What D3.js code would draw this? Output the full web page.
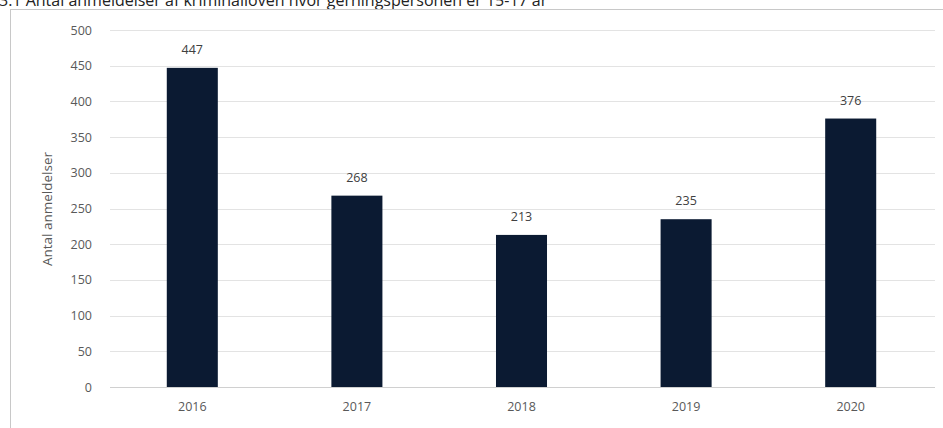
<!DOCTYPE html>
<html>
<head>
<meta charset="utf-8">
<script src="https://cdn.jsdelivr.net/npm/d3@7"></script>
<style>
  body { margin: 0; background: #fff; overflow: hidden; }
  text { font-family: "Open Sans", "Liberation Sans", sans-serif; }
</style>
</head>
<body>
<script>
const w = 943
const h = 428
const years = ["2016", "2017", "2018", "2019", "2020"]
const counts = [447, 268, 213, 235, 376]
const yTicks = [0, 50, 100, 150, 200, 250, 300, 350, 400, 450, 500]

const svg = d3.select("body").append("svg")
  .attr("width", w).attr("height", h)

// title, cut off at the top edge like in the source screenshot
svg.append("text")
  .attr("x", -1).attr("y", 6)
  .attr("font-family", "Liberation Sans, Arial, sans-serif")
  .attr("font-size", "16px")
  .attr("fill", "#222")
  .text("3.1 Antal anmeldelser af kriminalloven hvor gerningspersonen er 15-17 år")

// chart frame (right and bottom edges run off the picture)
svg.append("rect")
  .attr("x", 10.5).attr("y", 9.5)
  .attr("width", 960).attr("height", 440)
  .attr("fill", "none")
  .attr("stroke", "#c8c8c8")

const x = d3.scaleBand()
  .domain(years)
  .range([110, 933])
  .paddingInner(0.69)
  .paddingOuter(0.345)

const y = d3.scaleLinear()
  .domain([0, 500])
  .range([387, 30])

// gridlines
svg.append("g")
  .selectAll("line")
  .data(yTicks)
  .join("line")
  .attr("x1", 110).attr("x2", 935)
  .attr("y1", d => Math.round(y(d)) + 0.5)
  .attr("y2", d => Math.round(y(d)) + 0.5)
  .attr("stroke", d => d === 0 ? "#d0d0d0" : "#e3e3e3")
  .attr("stroke-width", 1)

// y axis
const yAxis = svg.append("g")
  .attr("transform", "translate(92,0)")
  .call(d3.axisLeft(y).tickValues(yTicks).tickSize(0).tickPadding(0))
yAxis.select(".domain").remove()
yAxis.selectAll("text")
  .attr("font-size", "12.5px")
  .attr("fill", "#595959")

// x axis
const xAxis = svg.append("g")
  .attr("transform", "translate(0,398)")
  .call(d3.axisBottom(x).tickSize(0).tickPadding(4))
xAxis.select(".domain").remove()
xAxis.selectAll("text")
  .attr("font-size", "12.5px")
  .attr("fill", "#595959")

// y title
svg.append("text")
  .attr("transform", "translate(52,209) rotate(-90)")
  .attr("text-anchor", "middle")
  .attr("font-size", "13.5px")
  .attr("fill", "#595959")
  .text("Antal anmeldelser")

// bars
svg.append("g")
  .selectAll("rect")
  .data(counts)
  .join("rect")
  .attr("x", (d, i) => x(years[i]))
  .attr("width", x.bandwidth())
  .attr("y", d => y(d))
  .attr("height", d => y(0) - y(d))
  .attr("fill", "#0b1a32")

// value labels
svg.append("g")
  .selectAll("text")
  .data(counts)
  .join("text")
  .attr("x", (d, i) => x(years[i]) + x.bandwidth() / 2)
  .attr("y", d => y(d) - 14)
  .attr("text-anchor", "middle")
  .attr("font-size", "12.5px")
  .attr("fill", "#404040")
  .text(d => d)
</script>
</body>
</html>
